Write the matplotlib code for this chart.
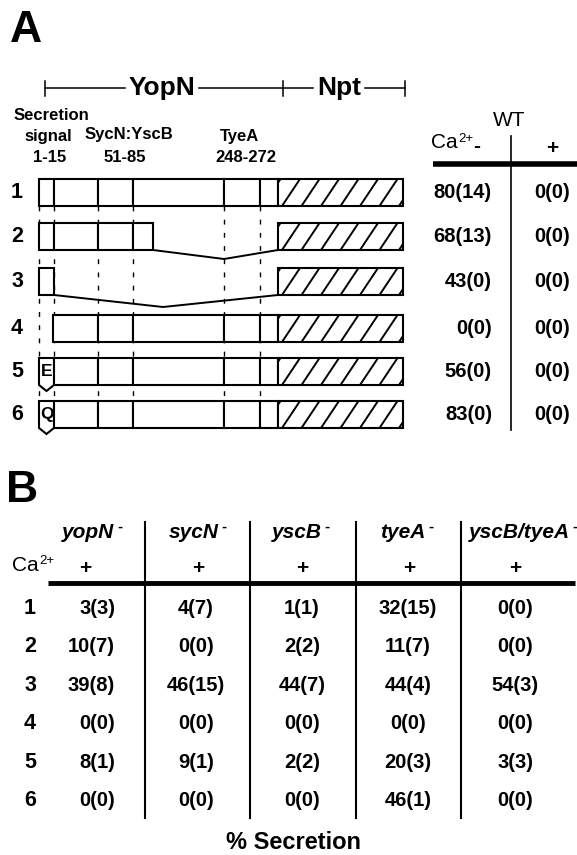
import matplotlib
matplotlib.use('Agg')
import matplotlib.pyplot as plt
from matplotlib.patches import Rectangle, Polygon

plt.rcParams['font.family'] = ['Liberation Sans', 'DejaVu Sans']

# ---------------- data ----------------
constructs = ['1', '2', '3', '4', '5', '6']
point_mutations = {4: 'E', 5: 'Q'}

wt_minus_mean = [80, 68, 43, 0, 56, 83]
wt_minus_sd = [14, 13, 0, 0, 0, 0]
wt_plus_mean = [0, 0, 0, 0, 0, 0]
wt_plus_sd = [0, 0, 0, 0, 0, 0]

strains = ['yopN', 'sycN', 'yscB', 'tyeA', 'yscB/tyeA']
yopN_mean = [3, 10, 39, 0, 8, 0]
yopN_sd = [3, 7, 8, 0, 1, 0]
sycN_mean = [4, 0, 46, 0, 9, 0]
sycN_sd = [7, 0, 15, 0, 1, 0]
yscB_mean = [1, 2, 44, 0, 2, 0]
yscB_sd = [1, 2, 7, 0, 2, 0]
tyeA_mean = [32, 11, 44, 0, 20, 46]
tyeA_sd = [15, 7, 4, 0, 3, 1]
yscBtyeA_mean = [0, 0, 54, 0, 3, 0]
yscBtyeA_sd = [0, 0, 3, 0, 3, 0]

# ---------------- figure ----------------
fig = plt.figure(figsize=(5.77, 8.55), dpi=100)
ax = fig.add_axes([0, 0, 1, 1])
ax.set_xlim(0, 577)
ax.set_ylim(855, 0)
ax.axis('off')

K = 'black'
BOLD = dict(fontweight='bold', color=K)

# panel letters
ax.text(26, 30, 'A', fontsize=32, ha='center', va='center', **BOLD)
ax.text(22, 490, 'B', fontsize=32, ha='center', va='center', **BOLD)

# ---------------- Panel A: schematic ----------------
yb = 88
for xs in [(45, 125), (199, 283), (283, 313), (365, 405)]:
    ax.plot(xs, [yb, yb], color=K, lw=1.1)
for xt in [45, 283, 405]:
    ax.plot([xt, xt], [81, 96], color=K, lw=1.1)
ax.text(162, yb, 'YopN', fontsize=19, ha='center', va='center', **BOLD)
ax.text(339, yb, 'Npt', fontsize=19, ha='center', va='center', **BOLD)

ax.text(51, 115, 'Secretion', fontsize=12, ha='center', va='center', **BOLD)
ax.text(48, 136, 'signal', fontsize=12, ha='center', va='center', **BOLD)
ax.text(50, 157, '1-15', fontsize=12, ha='center', va='center', **BOLD)
ax.text(129, 135, 'SycN:YscB', fontsize=12, ha='center', va='center', **BOLD)
ax.text(125, 157, '51-85', fontsize=12, ha='center', va='center', **BOLD)
ax.text(240, 136, 'TyeA', fontsize=12, ha='center', va='center', **BOLD)
ax.text(246, 157, '248-272', fontsize=12, ha='center', va='center', **BOLD)

row_top = [179, 223, 268, 315, 358, 401]
H = 27
full = [39, 54, 98, 133, 224, 260, 278]
row_cells = [full, [39, 54, 98, 133, 153], [39, 54],
             [53, 98, 133, 224, 260, 278], full, full]
npt_x0, npt_x1 = 278, 403
LW = 1.5

# dashed guide lines
for xd in [39, 54, 98, 133, 224, 260]:
    ax.plot([xd, xd], [row_top[0] + H, row_top[-1]], color=K, lw=1.0,
            ls=(0, (3.5, 6)), zorder=1)

for i, top in enumerate(row_top):
    yc = top + H / 2
    ax.text(17, yc, constructs[i], fontsize=15.5, ha='center', va='center', **BOLD)
    cells = row_cells[i]
    for j in range(len(cells) - 1):
        x0, x1 = cells[j], cells[j + 1]
        if i in point_mutations and j == 0:
            xm = (x0 + x1) / 2
            poly = Polygon([(x0, top), (x1, top), (x1, top + H), (xm, top + H + 6),
                            (x0, top + H)], closed=True, facecolor='white',
                           edgecolor=K, lw=LW, zorder=3)
            ax.add_patch(poly)
            ax.text(xm + 0.5, yc, point_mutations[i], fontsize=12.5, ha='center',
                    va='center', zorder=4, **BOLD)
        else:
            ax.add_patch(Rectangle((x0, top), x1 - x0, H, facecolor='white',
                                   edgecolor=K, lw=LW, zorder=3))
    # Npt (hatched)
    ax.add_patch(Rectangle((npt_x0, top), npt_x1 - npt_x0, H, facecolor='white',
                           edgecolor='none', zorder=3))
    clip = Rectangle((npt_x0 + 1, top + 1), npt_x1 - npt_x0 - 2, H - 2,
                     transform=ax.transData, facecolor='none', edgecolor='none')
    for k in range(-2, 9):
        xb = npt_x0 + 4 + k * 19.5
        ln, = ax.plot([xb, xb + 18], [top + H, top], color=K, lw=1.4, zorder=4,
                      solid_capstyle='butt')
        ln.set_clip_path(clip)
    ax.add_patch(Rectangle((npt_x0, top), npt_x1 - npt_x0, H, facecolor='none',
                           edgecolor=K, lw=LW, zorder=5))

# deletion connectors
ax.plot([153, 224, 278], [row_top[1] + H, row_top[1] + H + 9, row_top[1] + H],
        color=K, lw=1.4, zorder=2)
ax.plot([54, 163, 278], [row_top[2] + H, row_top[2] + H + 12, row_top[2] + H],
        color=K, lw=1.4, zorder=2)

# ---------------- Panel A: WT table ----------------
ax.text(509, 120, 'WT', fontsize=15, ha='center', va='center', color=K)
ca = ax.text(431, 143, 'Ca', fontsize=15, ha='left', va='center', color=K)
ax.annotate('2+', xy=(1, 0.7), xycoords=ca, xytext=(0.5, 0),
            textcoords='offset points', fontsize=9.5, ha='left', va='center', color=K)
ax.text(477, 146, '-', fontsize=15, ha='center', va='center', **BOLD)
ax.text(552, 149, '+', fontsize=15, ha='center', va='center', **BOLD)
ax.plot([433, 577], [164, 164], color=K, lw=4, solid_capstyle='butt')
ax.plot([511, 511], [136, 430], color=K, lw=1.2)
for i, top in enumerate(row_top):
    yc = top + H / 2
    ax.text(492, yc, f'{wt_minus_mean[i]}({wt_minus_sd[i]})', fontsize=14.5,
            ha='right', va='center', **BOLD)
    ax.text(552, yc, f'{wt_plus_mean[i]}({wt_plus_sd[i]})', fontsize=14.5,
            ha='center', va='center', **BOLD)

# ---------------- Panel B table ----------------
means = [yopN_mean, sycN_mean, yscB_mean, tyeA_mean, yscBtyeA_mean]
sds = [yopN_sd, sycN_sd, yscB_sd, tyeA_sd, yscBtyeA_sd]
head_x = [88, 194, 297, 403, 519]
plus_x = [85, 198, 302, 409, 515]
val_x = [115, 196, 302, 408, 515]
val_ha = ['right', 'center', 'center', 'center', 'center']

for c, name in enumerate(strains):
    t = ax.text(head_x[c], 532, name, fontsize=15, ha='center', va='center',
                fontstyle='italic', **BOLD)
    ax.annotate('-', xy=(1, 0.8), xycoords=t, xytext=(2, 0),
                textcoords='offset points', fontsize=11, ha='left', va='center',
                **BOLD)
    ax.text(plus_x[c], 568, '+', fontsize=15, ha='center', va='center', **BOLD)

cb = ax.text(12, 565, 'Ca', fontsize=15, ha='left', va='center', color=K)
ax.annotate('2+', xy=(1, 0.7), xycoords=cb, xytext=(0.5, 0),
            textcoords='offset points', fontsize=9.5, ha='left', va='center', color=K)

ax.plot([48, 575], [583, 583], color=K, lw=3.5, solid_capstyle='butt')
for xv in [145, 250, 356, 461]:
    ax.plot([xv, xv], [522, 818], color=K, lw=1.5)

for r in range(len(constructs)):
    yr = 608 + 38.5 * r
    ax.text(30, yr, constructs[r], fontsize=15.5, ha='center', va='center', **BOLD)
    for c in range(len(strains)):
        ax.text(val_x[c], yr, f'{means[c][r]}({sds[c][r]})', fontsize=14.5,
                ha=val_ha[c], va='center', **BOLD)

ax.text(294, 842, '% Secretion', fontsize=17, ha='center', va='center', **BOLD)

fig.savefig('out.png', dpi=100)
